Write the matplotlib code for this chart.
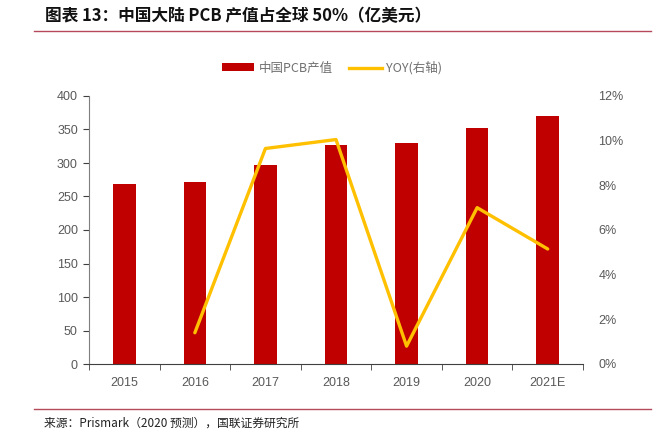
import matplotlib
matplotlib.use("Agg")
import matplotlib.pyplot as plt
import numpy as np
from matplotlib.lines import Line2D
from matplotlib.patches import Patch

plt.rcParams['font.family'] = ['Liberation Sans', 'Noto Sans CJK SC', 'DejaVu Sans']

# data #
years = ["2015", "2016", "2017", "2018", "2019", "2020", "2021E"]
output_value = [268, 271, 297, 327, 330, 352, 370]   # 亿美元
yoy_years = ["2016", "2017", "2018", "2019", "2020", "2021E"]
yoy = [1.4, 9.65, 10.05, 0.8, 7.0, 5.15]             # %
left_ticks = [0, 50, 100, 150, 200, 250, 300, 350, 400]
right_ticks = [0, 2, 4, 6, 8, 10, 12]

bar_red = "#C00000"
line_yellow = "#FFC000"
grey_text = "#595959"
axis_grey = "#7F7F7F"
rule_red = "#B5495B"

fig = plt.figure(figsize=(6.67, 4.40), dpi=100)
ax = fig.add_axes([89/667, 1 - 364/440, (583-89)/667, (364-96)/440])

x = np.arange(len(years))
ax.bar(x, output_value, width=0.32, color=bar_red, zorder=2)
ax.set_xlim(-0.5, len(years) - 0.5)
ax.set_ylim(0, 400)
ax.set_yticks(left_ticks)
ax.set_xticks(x)
ax.set_xticklabels(years)
ax.set_xticks(np.arange(-0.5, len(years)), minor=True)
ax.tick_params(axis="x", which="major", length=0, pad=9, labelsize=9, labelcolor=grey_text)
ax.tick_params(axis="x", which="minor", length=4, direction="out", color="#404040")
ax.tick_params(axis="y", length=4, direction="out", color="#404040", labelsize=9,
               labelcolor=grey_text, pad=4)
for s in ["top", "right"]:
    ax.spines[s].set_visible(False)
ax.spines["left"].set_color(axis_grey)
ax.spines["bottom"].set_color("#404040")

ax2 = ax.twinx()
xi = [years.index(y) for y in yoy_years]
ax2.plot(xi, yoy, color=line_yellow, lw=2.4, solid_capstyle="round", zorder=3)
ax2.set_ylim(0, 12)
ax2.set_yticks(right_ticks)
ax2.set_yticklabels([f"{t}%" for t in right_ticks])
ax2.tick_params(axis="y", length=0, pad=11, labelsize=9, labelcolor=grey_text)
for s in ["top", "right", "left", "bottom"]:
    ax2.spines[s].set_visible(False)

# legend #
handles = [Patch(facecolor=bar_red, edgecolor="none"),
           Line2D([0], [0], color=line_yellow, lw=2.4)]
leg = fig.legend(handles, ["中国PCB产值", "YOY(右轴)"], loc="center",
                 bbox_to_anchor=(332/667, 1 - 68/440), ncol=2, frameon=False,
                 fontsize=9, handlelength=2.6, handleheight=0.6, columnspacing=1.3,
                 handletextpad=0.35)
for t in leg.get_texts():
    t.set_color("#707070")
    t.set_family(['Noto Sans CJK SC', 'DejaVu Sans'])

# title and rules #
fig.text(45/667, 1 - 16/440, "图表 13：中国大陆 PCB 产值占全球 50%（亿美元）",
         fontsize=12, fontweight="bold", va="center", ha="left",
         family=['Noto Sans CJK SC', 'DejaVu Sans'], color="#111111")
fig.add_artist(Line2D([34/667, 651/667], [1 - 31/440] * 2, color=rule_red, lw=1))
fig.add_artist(Line2D([34/667, 651/667], [1 - 409/440] * 2, color=rule_red, lw=1))
fig.text(44/667, 1 - 423/440, "来源：Prismark（2020 预测），国联证券研究所",
         fontsize=8.5, va="center", ha="left", color="#222222",
         family=['Noto Sans CJK SC', 'DejaVu Sans'])

fig.savefig("out.png", dpi=100)
